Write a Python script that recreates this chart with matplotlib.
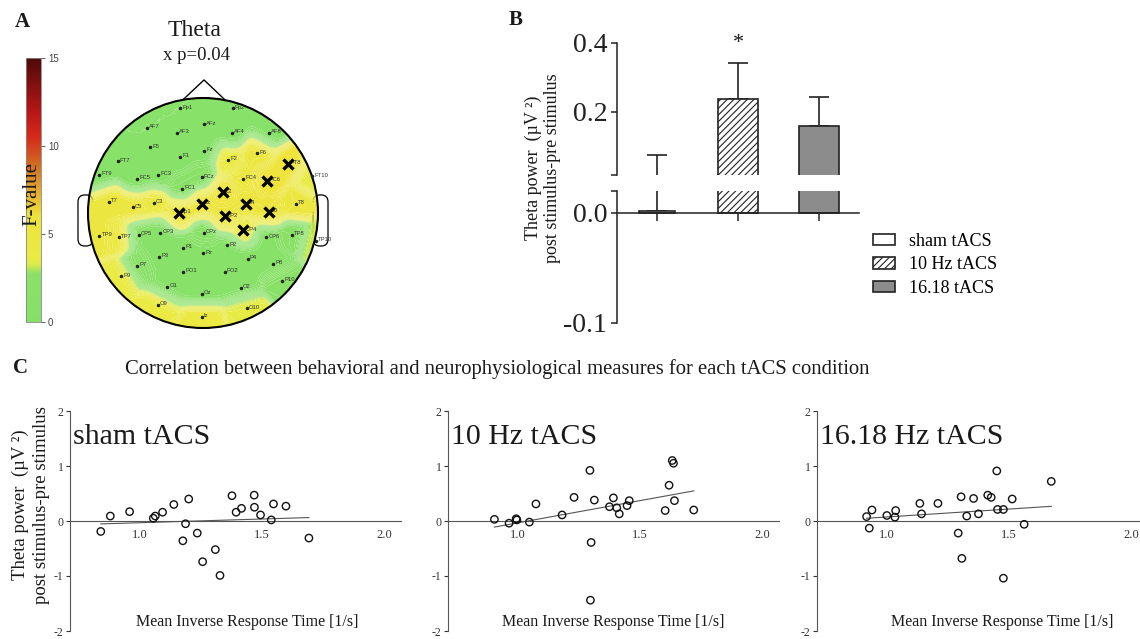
import numpy as np
import matplotlib
matplotlib.use('Agg')
import matplotlib.pyplot as plt
from matplotlib.colors import LinearSegmentedColormap
from matplotlib.patches import Circle, FancyBboxPatch, Patch

plt.rcParams['hatch.linewidth'] = 0.8

# ---------------- data ----------------
# Panel A: electrode names, normalised head coordinates and F-values
elec_names = ['Fp1', 'Fp2', 'AF7', 'AF3', 'AFz', 'AF4', 'AF8',
              'F5', 'F1', 'Fz', 'F2', 'F6', 'FT7', 'FT8',
              'FT9', 'FC5', 'FC3', 'FCz', 'FC4', 'FC6', 'FT10',
              'FC1', 'C2', 'T7', 'C5', 'C3', 'Cz', 'C4', 'T8',
              'Cp1', 'CP2', 'C6', 'CP4',
              'TP9', 'TP7', 'CP5', 'CP3', 'CPz', 'CP6', 'TP8', 'TP10',
              'P1', 'P2', 'P3', 'Pz', 'P4', 'P7', 'P8', 'P9', 'P10',
              'PO1', 'PO2', 'O1', 'Oz', 'O2', 'O9', 'O10', 'Iz']
elec_x = [-0.20, 0.26, -0.49, -0.23, 0.01, 0.25, 0.57,
          -0.46, -0.20, 0.01, 0.22, 0.47, -0.74, 0.74,
          -0.90, -0.57, -0.39, -0.01, 0.35, 0.56, 0.95,
          -0.18, 0.17, -0.82, -0.61, -0.43, -0.01, 0.37, 0.81,
          -0.21, 0.19, 0.57, 0.35,
          -0.90, -0.73, -0.56, -0.37, 0.01, 0.55, 0.77, 0.98,
          -0.17, 0.21, -0.38, 0.00, 0.39, -0.57, 0.61, -0.71, 0.69,
          -0.17, 0.19, -0.31, -0.01, 0.33, -0.39, 0.38, -0.01]
elec_y = [0.91, 0.91, 0.74, 0.70, 0.77, 0.70, 0.70,
          0.57, 0.49, 0.54, 0.46, 0.52, 0.45, 0.43,
          0.33, 0.30, 0.33, 0.31, 0.30, 0.28, 0.32,
          0.21, 0.18, 0.10, 0.05, 0.09, 0.08, 0.08, 0.08,
          0.00, -0.03, 0.01, -0.15,
          -0.20, -0.21, -0.19, -0.17, -0.17, -0.21, -0.19, -0.24,
          -0.30, -0.28, -0.38, -0.35, -0.40, -0.46, -0.44, -0.55, -0.59,
          -0.51, -0.51, -0.64, -0.70, -0.65, -0.80, -0.83, -0.90]
elec_f = [1.0, 1.0, 1.0, 1.0, 1.0, 1.0, 1.0,
          1.0, 1.0, 1.0, 4.0, 5.0, 1.0, 6.0,
          1.0, 1.0, 1.0, 1.5, 5.0, 6.0, 3.5,
          1.5, 6.0, 5.0, 5.0, 4.5, 5.5, 5.5, 5.0,
          5.5, 5.5, 5.5, 4.0,
          5.0, 4.5, 1.0, 1.0, 1.5, 1.0, 1.5, 3.2,
          1.0, 1.0, 1.0, 1.0, 1.0, 1.5, 1.0, 3.8, 2.0,
          1.0, 1.0, 1.0, 1.0, 1.0, 4.0, 3.6, 4.5]
sig_elecs = ['FT8', 'FC6', 'C2', 'Cz', 'C4', 'Cp1', 'CP2', 'C6', 'CP4']

# Panel B: bar chart
conditions = ['sham tACS', '10 Hz tACS', '16.18 tACS']
bar_means = [0.002, 0.238, 0.159]
bar_sems = [0.073, 0.102, 0.084]

# Panel C: scatter data
sham_x = [0.841, 0.880, 0.959, 1.056, 1.064, 1.094, 1.140, 1.201, 1.188, 1.177,
          1.236, 1.258, 1.310, 1.329, 1.378, 1.395, 1.417, 1.469, 1.470, 1.495,
          1.539, 1.548, 1.599, 1.693]
sham_y = [-0.19, 0.09, 0.17, 0.05, 0.09, 0.16, 0.30, 0.40, -0.05, -0.36,
          -0.22, -0.74, -0.52, -0.99, 0.46, 0.16, 0.23, 0.47, 0.25, 0.11,
          0.02, 0.31, 0.27, -0.31]
hz10_x = [0.905, 0.965, 0.994, 0.997, 1.048, 1.075, 1.182, 1.231, 1.296, 1.301,
          1.298, 1.314, 1.376, 1.392, 1.406, 1.416, 1.448, 1.457, 1.604, 1.620,
          1.633, 1.638, 1.642, 1.721]
hz10_y = [0.03, -0.04, 0.04, 0.02, -0.02, 0.31, 0.11, 0.43, 0.92, -0.39,
          -1.44, 0.38, 0.26, 0.42, 0.24, 0.13, 0.28, 0.37, 0.19, 0.65,
          1.10, 1.05, 0.37, 0.20]
hz16_x = [0.918, 0.929, 0.940, 1.001, 1.034, 1.037, 1.136, 1.143, 1.210, 1.293,
          1.305, 1.308, 1.328, 1.356, 1.376, 1.414, 1.428, 1.451, 1.454, 1.478,
          1.478, 1.514, 1.563, 1.674]
hz16_y = [0.08, -0.13, 0.20, 0.10, 0.07, 0.19, 0.32, 0.13, 0.32, -0.22,
          0.44, -0.68, 0.09, 0.41, 0.13, 0.47, 0.43, 0.91, 0.21, 0.21,
          -1.04, 0.40, -0.06, 0.72]
scatter_titles = ['sham tACS', '10 Hz tACS', '16.18 Hz tACS']
x_ticks = [1.0, 1.5, 2.0]
x_ticklabels = ['1.0', '1.5', '2.0']
y_ticks = [-2, -1, 0, 1, 2]
y_ticklabels = ['-2', '-1', '0', '1', '2']

# ---------------- figure ----------------
W, H = 1140, 639
fig = plt.figure(figsize=(W / 100, H / 100), dpi=100)
SERIF = ['Liberation Serif', 'DejaVu Serif']
SANS = ['Liberation Sans', 'DejaVu Sans']
TXT = '#1a1a1a'


def px_axes(x0, y0, x1, y1):
    return fig.add_axes([x0 / W, 1 - y1 / H, (x1 - x0) / W, (y1 - y0) / H])


def ftext(x, y, s, **kw):
    kw.setdefault('family', SERIF)
    kw.setdefault('color', TXT)
    kw.setdefault('ha', 'center')
    kw.setdefault('va', 'center')
    return fig.text(x / W, 1 - y / H, s, **kw)


cmap = LinearSegmentedColormap.from_list('fval', [
    (0.0, '#86e068'), (2.75 / 15, '#8ce268'), (3.25 / 15, '#e0ea48'),
    (3.7 / 15, '#eaeb44'), (6.0 / 15, '#eee43c'), (7.5 / 15, '#e4a830'),
    (9.0 / 15, '#d06a22'), (10.5 / 15, '#d82a1a'), (12.0 / 15, '#b81616'),
    (1.0, '#500a0a')])

# ---- Panel A ----
ftext(22, 22, 'A', fontsize=15, weight='bold')
ftext(195, 30, 'Theta', fontsize=17)
ftext(196.5, 55, 'x p=0.04', fontsize=13.5)

cax = px_axes(26, 58, 41, 322)
grad = np.linspace(0, 15, 256)[:, None]
cax.imshow(grad, aspect='auto', cmap=cmap, origin='lower', extent=(0, 1, 0, 15))
cax.set_xticks([])
cax.yaxis.tick_right()
cax.set_yticks([0, 5, 10, 15])
cax.tick_params(axis='y', length=3, width=0.6, labelsize=7, colors='#444', pad=2)
for lab in cax.get_yticklabels():
    lab.set_family(SANS)
for sp in cax.spines.values():
    sp.set_color('#888')
    sp.set_linewidth(0.6)
cax.text(0.42, 7.27, 'F-value', rotation=90, ha='center', va='center',
         fontsize=15, family=SERIF, color=TXT)

tax = px_axes(70, 72, 340, 342)
tax.axis('off')
ex = np.array(elec_x)
ey = np.array(elec_y)
ev = np.array(elec_f)
g = np.linspace(-1, 1, 241)
GX, GY = np.meshgrid(g, g)
d2 = (GX[..., None] - ex) ** 2 + (GY[..., None] - ey) ** 2
w = np.exp(-d2 / (2 * 0.07 ** 2)) + 1e-30
field = (w * ev).sum(-1) / w.sum(-1)
cs = tax.contourf(GX, GY, field, levels=np.linspace(0, 15, 151), cmap=cmap,
                  vmin=0, vmax=15, zorder=2, antialiased=True)
cs.set_clip_path(Circle((0, 0), 1, transform=tax.transData))
tax.add_patch(Circle((0, 0), 1, fill=False, lw=1.5, ec='black', zorder=4))
tax.plot([-0.174, 0.009, 0.19], [0.985, 1.157, 0.985], color='black', lw=1.0, zorder=1)
for ex0 in (-1.087, 0.957):
    tax.add_patch(FancyBboxPatch((ex0, -0.287), 0.13, 0.444,
                                 boxstyle='round,pad=0,rounding_size=0.06',
                                 fc='white', ec='black', lw=0.9, zorder=1))
tax.plot(ex, ey, 'o', ms=1.5, color='#222', ls='none', zorder=5)
for n, x, y in zip(elec_names, ex, ey):
    tax.text(x + 0.018, y + 0.01, n, fontsize=4.2, color='#333', family=SANS,
             ha='left', va='center', zorder=5)
sig_idx = [elec_names.index(n) for n in sig_elecs]
tax.plot(ex[sig_idx], ey[sig_idx], ls='none', marker='x', ms=7, mew=2.4,
         color='black', zorder=6)
tax.set_xlim(-1.1565, 1.1913)
tax.set_ylim(-1.1217, 1.2261)

# ---- Panel B ----
ftext(516, 20, 'B', fontsize=15, weight='bold')
ax_top = px_axes(617, 42.7, 859, 174.7)
ax_bot = px_axes(617, 190.7, 859, 323)
ax_top.set_ylim(0.018, 0.4)
ax_bot.set_ylim(-0.1, 0.02)
pos = np.arange(len(conditions))
faces = ['white', 'white', '#8c8c8c']
hatches = ['', '/////', '']
for ax in (ax_top, ax_bot):
    ax.set_xlim(-0.5, 2.5)
    ax.errorbar(pos, bar_means, yerr=[np.zeros(3), bar_sems], fmt='none',
                ecolor='#222', elinewidth=1.2, capsize=7.2, capthick=1.2, zorder=1)
    ax.bar(pos, bar_means, width=[0.45, 0.5, 0.5], color=faces, hatch=hatches,
           edgecolor='#222', linewidth=1.2, zorder=2)
    ax.patch.set_alpha(0)
    for s in ('top', 'right'):
        ax.spines[s].set_visible(False)
    ax.spines['left'].set_color('#222')
    ax.spines['left'].set_linewidth(1.1)
    ax.tick_params(axis='y', direction='out', length=4, width=1.1, colors='#222',
                   labelsize=20, pad=3)
ax_top.spines['bottom'].set_visible(False)
ax_top.set_xticks([])
ax_top.set_yticks([0.018, 0.2, 0.4])
ax_top.set_yticklabels(['', '0.2', '0.4'], family=SERIF)
ax_bot.spines['bottom'].set_position(('data', 0))
ax_bot.spines['bottom'].set_color('#222')
ax_bot.spines['bottom'].set_linewidth(1.1)
ax_bot.set_xticks(pos)
ax_bot.set_xticklabels([])
ax_bot.tick_params(axis='x', direction='out', length=6, width=1.1, colors='#222')
ax_bot.set_yticks([-0.1, 0.0, 0.02])
ax_bot.set_yticklabels(['-0.1', '0.0', ''], family=SERIF)
ax_top.text(1, 0.399, '*', ha='center', va='center', fontsize=16, family=SERIF, color=TXT)
ftext(543, 168, 'Theta power  (µV ²)\npost stimulus-pre stimulus', rotation=90,
      fontsize=13, linespacing=1.12, multialignment='center')

handles = [Patch(facecolor=f, edgecolor='#222', hatch=h, linewidth=1.2)
           for f, h in zip(faces, hatches)]
fig.legend(handles, conditions, loc='upper left', bbox_to_anchor=(873 / W, 1 - 233 / H),
           frameon=False, prop={'family': SERIF, 'size': 13}, handlelength=1.22,
           handleheight=0.6, handletextpad=0.8, labelspacing=0.36, borderpad=0,
           borderaxespad=0)

# ---- Panel C ----
ftext(20, 368, 'C', fontsize=15, weight='bold')
ftext(497, 369, 'Correlation between behavioral and neurophysiological measures for each tACS condition',
      fontsize=14.9)
ftext(31, 505, 'Theta power  (µV ²)\npost stimulus-pre stimulus', rotation=90,
      fontsize=13.5, linespacing=1.3, multialignment='center')

series = [(sham_x, sham_y), (hz10_x, hz10_y), (hz16_x, hz16_y)]
lefts = [70, 448, 817]
xlabel_pos = [0.536, 0.50, 0.56]
for (sx, sy), left, title, xl in zip(series, lefts, scatter_titles, xlabel_pos):
    ax = px_axes(left, 411, left + 331, 631)
    ax.set_xlim(0.715, 2.07)
    ax.set_ylim(-2, 2)
    ax.patch.set_alpha(0)
    sx = np.array(sx)
    sy = np.array(sy)
    k, b = np.polyfit(sx, sy, 1)
    xx = np.array([sx.min(), sx.max()])
    ax.plot(xx, k * xx + b, color='#555', lw=0.8, zorder=2)
    ax.scatter(sx, sy, s=28, facecolors='none', edgecolors='#111', linewidths=1.0, zorder=3)
    for s in ('top', 'right'):
        ax.spines[s].set_visible(False)
    ax.spines['bottom'].set_position(('data', 0))
    for s in ('left', 'bottom'):
        ax.spines[s].set_color('#555')
        ax.spines[s].set_linewidth(0.8)
    ax.set_xticks(x_ticks)
    ax.set_xticklabels(x_ticklabels, family=SERIF)
    ax.tick_params(axis='x', length=0, pad=6, labelsize=9, colors='#333')
    ax.set_yticks(y_ticks)
    ax.set_yticklabels(y_ticklabels, family=SERIF)
    ax.tick_params(axis='y', length=3, width=0.8, pad=1.5, labelsize=8.5, colors='#333')
    ax.text(0.009, 0.85, title, transform=ax.transAxes, ha='left', va='baseline',
            fontsize=21.5, family=SERIF, color=TXT)
    ax.text(xl, 0.04, 'Mean Inverse Response Time [1/s]', transform=ax.transAxes,
            ha='center', va='center', fontsize=11.5, family=SERIF, color=TXT)

fig.savefig('out.png', dpi=100)
